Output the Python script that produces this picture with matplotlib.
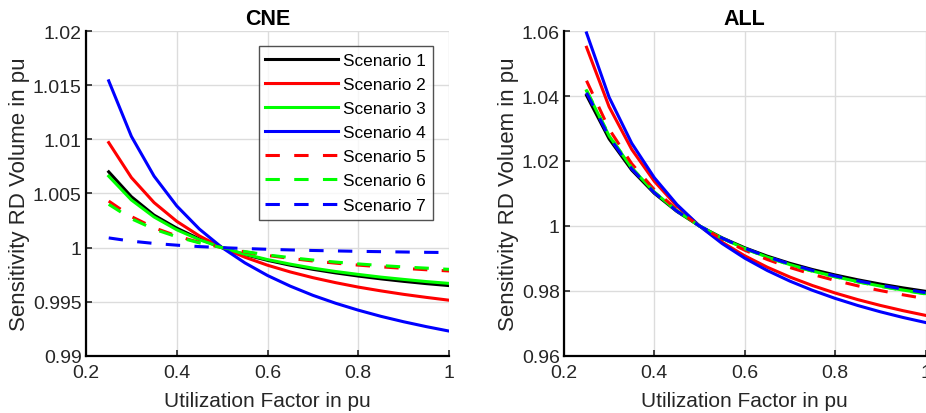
import matplotlib.pyplot as plt

plt.rcParams['font.family'] = ['Liberation Sans', 'DejaVu Sans']

x = [0.25, 0.30, 0.35, 0.40, 0.45, 0.50, 0.55, 0.60, 0.65, 0.70, 0.75, 0.80, 0.85, 0.90, 0.95, 1.00]

labels = ['Scenario 1', 'Scenario 2', 'Scenario 3', 'Scenario 4', 'Scenario 5', 'Scenario 6', 'Scenario 7']
colors = ['#000000', '#ff0000', '#00ff00', '#0000ff', '#ff0000', '#00ff00', '#0000ff']
styles = ['-', '-', '-', '-', '--', '--', '--']

# CNE panel
cne_s1 = [1.0070, 1.0047, 1.0030, 1.0018, 1.0008, 1.0, 0.99936, 0.99883, 0.99838, 0.99800, 0.99767, 0.99738, 0.99712, 0.99689, 0.99668, 0.99650]
cne_s2 = [1.0097, 1.00647, 1.00416, 1.00243, 1.00108, 1.0, 0.99912, 0.99838, 0.99776, 0.99723, 0.99677, 0.99636, 0.99601, 0.99569, 0.99541, 0.99515]
cne_s3 = [1.0066, 1.0044, 1.00283, 1.00165, 1.00073, 1.0, 0.99940, 0.99890, 0.99848, 0.99811, 0.99780, 0.99753, 0.99728, 0.99707, 0.99687, 0.9967]
cne_s4 = [1.0154, 1.01027, 1.0066, 1.00385, 1.00171, 1.0, 0.99860, 0.99743, 0.99645, 0.99560, 0.99487, 0.99423, 0.99366, 0.99316, 0.99271, 0.9923]
cne_s5 = [1.0043, 1.00287, 1.00184, 1.00108, 1.00048, 1.0, 0.99961, 0.99928, 0.99901, 0.99877, 0.99857, 0.99839, 0.99823, 0.99809, 0.99796, 0.99785]
cne_s6 = [1.0040, 1.00267, 1.00171, 1.0010, 1.00044, 1.0, 0.99964, 0.99933, 0.99908, 0.99886, 0.99867, 0.9985, 0.99835, 0.99822, 0.99811, 0.9980]
cne_s7 = [1.0009, 1.0006, 1.00039, 1.00023, 1.0001, 1.0, 0.99992, 0.99985, 0.99979, 0.99974, 0.9997, 0.99966, 0.99963, 0.9996, 0.99957, 0.99955]

# ALL panel
all_s1 = [1.0402, 1.0268, 1.0172, 1.01005, 1.00447, 1.0, 0.99635, 0.9933, 0.99072, 0.98851, 0.9866, 0.98493, 0.98345, 0.98213, 0.98096, 0.9799]
all_s2 = [1.055, 1.03667, 1.02357, 1.01375, 1.00611, 1.0, 0.995, 0.99083, 0.98731, 0.98429, 0.98167, 0.97938, 0.97735, 0.97556, 0.97395, 0.9725]
all_s3 = [1.0416, 1.02773, 1.01783, 1.0104, 1.00462, 1.0, 0.99622, 0.99307, 0.9904, 0.98811, 0.98613, 0.9844, 0.98287, 0.98151, 0.98029, 0.9792]
all_s4 = [1.0594, 1.0396, 1.02546, 1.01485, 1.0066, 1.0, 0.9946, 0.9901, 0.98629, 0.98303, 0.9802, 0.97773, 0.97554, 0.9736, 0.97186, 0.9703]
all_s5 = [1.0447, 1.0298, 1.01916, 1.01118, 1.00497, 1.0, 0.99594, 0.99255, 0.98968, 0.98723, 0.9851, 0.98324, 0.98159, 0.98013, 0.97883, 0.97765]
all_s6 = [1.0418, 1.02787, 1.01791, 1.01045, 1.00464, 1.0, 0.9962, 0.99303, 0.99035, 0.98806, 0.98607, 0.98433, 0.98279, 0.98142, 0.9802, 0.9791]
all_s7 = [1.041, 1.02733, 1.01757, 1.01025, 1.00456, 1.0, 0.99627, 0.99317, 0.99054, 0.98829, 0.98633, 0.98463, 0.98312, 0.98178, 0.98058, 0.9795]

cne = [cne_s1, cne_s2, cne_s3, cne_s4, cne_s5, cne_s6, cne_s7]
all_ = [all_s1, all_s2, all_s3, all_s4, all_s5, all_s6, all_s7]

fig = plt.figure(figsize=(9.26, 4.14), dpi=100)
ax1 = fig.add_axes([0.0929, 0.1377, 0.392, 0.785])
ax2 = fig.add_axes([0.609, 0.1377, 0.3905, 0.785])


def style_axes(ax, title, ylabel, ylim, yticks, yticklabels):
    ax.set_xlim(0.2, 1)
    ax.set_ylim(*ylim)
    ax.set_xticks([0.2, 0.4, 0.6, 0.8, 1])
    ax.set_xticklabels(['0.2', '0.4', '0.6', '0.8', '1'])
    ax.set_yticks(yticks)
    ax.set_yticklabels(yticklabels)
    ax.grid(True, color='#dcdcdc', linewidth=1.0)
    ax.set_axisbelow(True)
    ax.tick_params(direction='in', labelsize=14, length=4, width=1.2, colors='#262626',
                   labelcolor='#262626')
    ax.tick_params(axis='x', pad=6)
    ax.tick_params(axis='y', pad=3)
    for side in ['top', 'right']:
        ax.spines[side].set_visible(False)
    for side in ['left', 'bottom']:
        ax.spines[side].set_linewidth(1.6)
        ax.spines[side].set_color('#000000')
    ax.set_title(title, fontsize=15.5, fontweight='bold', pad=5)
    ax.set_xlabel('Utilization Factor in pu', fontsize=15, color='#262626', labelpad=7)
    ax.set_ylabel(ylabel, fontsize=16, color='#262626', labelpad=2)


for ax, data in [(ax1, cne), (ax2, all_)]:
    for vals, lab, col, ls in zip(data, labels, colors, styles):
        line, = ax.plot(x, vals, color=col, linestyle=ls, linewidth=2.2, label=lab)
        if ls == '--':
            line.set_dashes((4.7, 4.7))

style_axes(ax1, 'CNE', 'Sensitivity RD Volume in pu', (0.99, 1.02),
           [0.99, 0.995, 1.0, 1.005, 1.01, 1.015, 1.02],
           ['0.99', '0.995', '1', '1.005', '1.01', '1.015', '1.02'])
style_axes(ax2, 'ALL', 'Sensitivity RD Voluem in pu', (0.96, 1.06),
           [0.96, 0.98, 1.0, 1.02, 1.04, 1.06],
           ['0.96', '0.98', '1', '1.02', '1.04', '1.06'])

leg = ax1.legend(loc='upper right', fontsize=12.4, frameon=True, fancybox=False,
                 edgecolor='#262626', handlelength=4.2, handletextpad=0.3,
                 labelspacing=0.53, borderpad=0.4, borderaxespad=0,
                 bbox_to_anchor=(0.955, 0.955))
leg.get_frame().set_linewidth(1.0)

fig.savefig('out.png', dpi=100)
